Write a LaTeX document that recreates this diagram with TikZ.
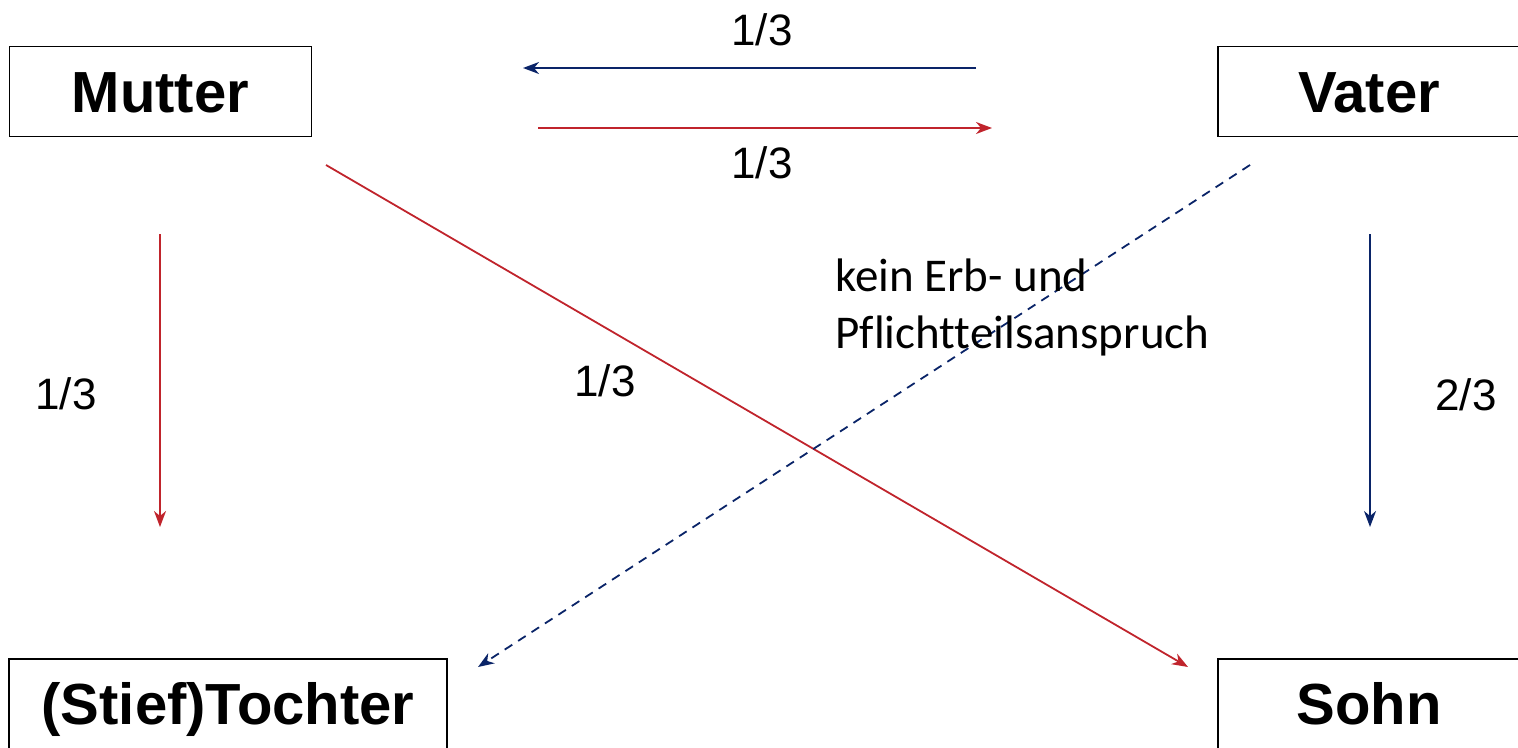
\documentclass[tikz,border=0pt]{standalone}
\usepackage{fontspec}
\setmainfont{Liberation Sans}
\newfontfamily\notefont[Ligatures=NoCommon]{Carlito}
\usetikzlibrary{arrows.meta}
\definecolor{lineblue}{RGB}{10,36,104}
\definecolor{linered}{RGB}{192,36,44}
\tikzset{
  person/.style={draw=black, line width=1.5pt, fill=white, inner sep=0pt,
    minimum height=90pt, text height=41.5pt, text depth=0pt,
    font=\fontsize{58}{60}\selectfont\bfseries},
  share/.style={font=\fontsize{44}{46}\selectfont, inner sep=0pt},
  flow/.style={line width=1.8pt, -{Stealth[length=16pt,width=12pt,inset=5pt]}},
  redflow/.style={flow, draw=linered},
  blueflow/.style={flow, draw=lineblue},
}
\begin{document}
\begin{tikzpicture}[x=1pt,y=-1pt]
\useasboundingbox (0,0) rectangle (1518,747);
\clip (0,0) rectangle (1518,747);

% family members
\node[person, minimum width=302pt] (mutter) at (160.5,91.5) {Mutter};
\node[person, minimum width=302pt] (vater) at (1369,91.5) {Vater};
\node[person, minimum width=438pt] (tochter) at (228,704) {(Stief)Tochter};
\node[person, minimum width=302pt] (sohn) at (1369,704) {Sohn};

% end points of the inheritance arrows
\coordinate (vm0) at (976,68);   \coordinate (vm1) at (523,68);
\coordinate (mv0) at (538,128);  \coordinate (mv1) at (992,128);
\coordinate (mt0) at (160,234);  \coordinate (mt1) at (160,527);
\coordinate (vs0) at (1370,234); \coordinate (vs1) at (1370,527);
\coordinate (ms0) at (326,165);  \coordinate (ms1) at (1188,667);
\coordinate (vt0) at (1250,165); \coordinate (vt1) at (478,667);

% arrows
\draw[blueflow] (vm0) -- (vm1);
\draw[redflow] (mv0) -- (mv1);
\draw[redflow] (mt0) -- (mt1);
\draw[blueflow] (vs0) -- (vs1);
\draw[redflow] (ms0) -- (ms1);
\draw[blueflow, dash pattern=on 9pt off 7pt] (vt0) -- (vt1);

% shares
\node[share] (lvm) at (762,30) {1/3};
\node[share] (lmv) at (762,163) {1/3};
\node[share] (lmt) at (66,394) {1/3};
\node[share] (lms) at (605,381) {1/3};
\node[share] (lvs) at (1466,395) {2/3};

% note on the step-daughter
\node[anchor=north west, align=left, inner sep=0pt,
      font=\notefont\fontsize{47}{57}\selectfont] (note) at (835,259)
  {kein Erb- und\\Pflichtteilsanspruch};
\end{tikzpicture}
\end{document}
